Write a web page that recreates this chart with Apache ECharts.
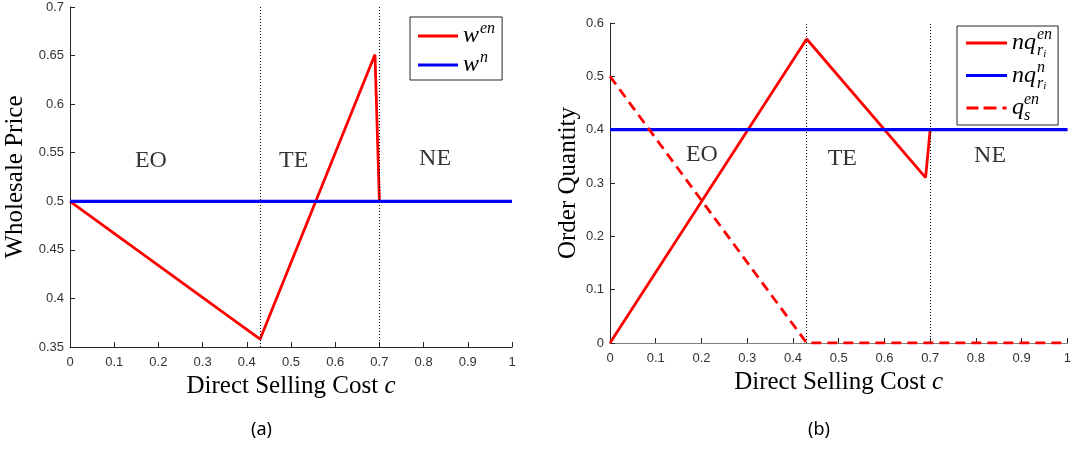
<!DOCTYPE html>
<html>
<head>
<meta charset="utf-8">
<script src="https://cdn.jsdelivr.net/npm/echarts@6/dist/echarts.min.js"></script>
<style>
html,body{margin:0;padding:0;background:#fff;}
#chart{width:1074px;height:456px;}
</style>
</head>
<body>
<div id="chart"></div>
<script>
// ---- data ----
const xTicks = [0, 0.1, 0.2, 0.3, 0.4, 0.5, 0.6, 0.7, 0.8, 0.9, 1];
const boundaries = [0.43, 0.70];

// (a) Wholesale price
const cWen = [0, 0.43, 0.69, 0.70, 1];
const wEn  = [0.5, 0.358, 0.651, 0.5, 0.5];
const cWn  = [0, 1];
const wN   = [0.5, 0.5];

// (b) Order quantity
const cQen = [0, 0.43, 0.69, 0.70, 1];
const nqEn = [0, 0.57, 0.31, 0.40, 0.40];
const cQn  = [0, 1];
const nqN  = [0.4, 0.4];
const cQs  = [0, 0.43, 1];
const qsEn = [0.5, 0, 0];

// region labels
const regionNames = ['EO', 'TE', 'NE'];
const regionXa = [0.183, 0.506, 0.826];
const regionYa = [0.542, 0.542, 0.544];
const regionXb = [0.201, 0.508, 0.831];
const regionYb = [0.353, 0.345, 0.351];

const panelLabels = ['(a)', '(b)'];

// ---- helpers ----
const pairs = (xs, ys) => xs.map((x, i) => [x, ys[i]]);
const labelPts = (xs, ys) => xs.map((x, i) => ({ value: [x, ys[i]], name: regionNames[i] }));

const AX = '#262626';
const serif = 'Liberation Serif';
const sans = 'Liberation Sans';

function xAxisOpt(gridIndex, lineColor) {
  return {
    type: 'value', gridIndex, min: 0, max: 1, interval: 0.1,
    name: '{t|Direct Selling Cost }{c|c}',
    nameLocation: 'middle', nameGap: 21,
    nameTextStyle: {
      rich: {
        t: { fontFamily: serif, fontSize: 25, color: '#000' },
        c: { fontFamily: serif, fontSize: 25, fontStyle: 'italic', color: '#000' }
      }
    },
    axisLine: { show: true, lineStyle: { color: lineColor, width: 1 } },
    axisTick: { show: true, inside: true, length: 5, lineStyle: { color: AX } },
    axisLabel: { fontFamily: sans, fontSize: 13, color: '#333', margin: 9,
      formatter: v => String(+v.toFixed(2)) },
    splitLine: { show: false }
  };
}
function yAxisOpt(gridIndex, min, max, interval, name, gap) {
  return {
    type: 'value', gridIndex, min, max, interval,
    name, nameLocation: 'middle', nameGap: gap,
    nameTextStyle: { fontFamily: serif, fontSize: 25, color: '#000' },
    axisLine: { show: true, lineStyle: { color: AX, width: 1 } },
    axisTick: { show: true, inside: true, length: 5, lineStyle: { color: AX } },
    axisLabel: { fontFamily: sans, fontSize: 13, color: '#333', margin: 6,
      formatter: v => String(+v.toFixed(2)) },
    splitLine: { show: false }
  };
}

const markLines = {
  silent: true, symbol: 'none',
  label: { show: false },
  lineStyle: { color: '#000', type: [1, 2], width: 1 },
  data: boundaries.map(b => ({ xAxis: b }))
};

function lineSeries(name, xi, yi, data, color, width, dashed) {
  return {
    name, type: 'line', xAxisIndex: xi, yAxisIndex: yi, data,
    symbol: 'none', showSymbol: false, animation: false,
    lineStyle: { color, width, type: dashed ? [10, 6] : 'solid' },
    itemStyle: { color }, z: 3
  };
}
function labelSeries(xi, yi, data) {
  return {
    type: 'scatter', xAxisIndex: xi, yAxisIndex: yi, data, symbolSize: 0,
    silent: true, animation: false,
    label: { show: true, position: 'inside', formatter: p => p.name,
      fontFamily: serif, fontSize: 24, color: '#000' }
  };
}

const richLegend = {
  v:   { fontFamily: serif, fontStyle: 'italic', fontSize: 24, color: '#000' },
  sup: { fontFamily: serif, fontStyle: 'italic', fontSize: 16, color: '#000' },
  sub: { fontFamily: serif, fontStyle: 'italic', fontSize: 16, color: '#000' },
  ss:  { fontFamily: serif, fontStyle: 'italic', fontSize: 11, color: '#000', padding: [6, 0, 0, 0] }
};
function legendRich(a, b) {
  return {
    v:   Object.assign({}, richLegend.v, { lineHeight: b }),
    sup: Object.assign({}, richLegend.sup, { lineHeight: a }),
    sub: Object.assign({}, richLegend.sub, { lineHeight: a }),
    ss:  Object.assign({}, richLegend.ss, { lineHeight: a }),
    pw:  { width: 17, lineHeight: a },
    pnq: { width: 25, lineHeight: a },
    pq:  { width: 12, lineHeight: a },
    e:   { lineHeight: a }
  };
}
const legendText = {
  'w^{en}': '{pw|}{sup|en}\n{v|w}\n{e|}',
  'w^{n}': '{pw|}{sup|n}\n{v|w}\n{e|}',
  'nq_{r_i}^{en}': '{pnq|}{sup|en}\n{v|nq}\n{pnq|}{sub|r}{ss|i}',
  'nq_{r_i}^{n}': '{pnq|}{sup|n}\n{v|nq}\n{pnq|}{sub|r}{ss|i}',
  'q_s^{en}': '{pq|}{sup|en}\n{v|q}\n{pq|}{sub|s}'
};
const dashIcon = 'path://M0 0H12V3H0Z M17 0H30V3H17Z M36 0H40V3H36Z';

const option = {
  backgroundColor: '#fff',
  animation: false,
  grid: [
    { left: 70, top: 7, width: 442, height: 340 },
    { left: 610, top: 23, width: 462, height: 320 }
  ],
  xAxis: [xAxisOpt(0, AX), xAxisOpt(1, '#7f7f7f')],
  yAxis: [
    yAxisOpt(0, 0.35, 0.7, 0.05, 'Wholesale Price', 42),
    yAxisOpt(1, 0, 0.6, 0.1, 'Order Quantity', 29)
  ],
  legend: [
    {
      data: [{ name: 'w^{en}', icon: 'rect' }, { name: 'w^{n}', icon: 'rect' }],
      orient: 'vertical', left: 410, top: 17,
      padding: [4, 7, 2, 8], itemWidth: 40, itemHeight: 3, itemGap: 1,
      borderColor: AX, borderWidth: 1, backgroundColor: '#fff',
      formatter: n => legendText[n],
      textStyle: { rich: legendRich(4, 10) },
      selectedMode: false
    },
    {
      data: [{ name: 'nq_{r_i}^{en}', icon: 'rect' }, { name: 'nq_{r_i}^{n}', icon: 'rect' }, { name: 'q_s^{en}', icon: dashIcon }],
      orient: 'vertical', left: 957, top: 26,
      padding: [1, 6, 1, 9], itemWidth: 41, itemHeight: 3, itemGap: 0,
      borderColor: AX, borderWidth: 1, backgroundColor: '#fff',
      formatter: n => legendText[n],
      textStyle: { rich: legendRich(4, 12) },
      selectedMode: false
    }
  ],
  graphic: [
    { type: 'text', left: 251, top: 421, style: { text: panelLabels[0], font: '18px "Noto Sans"', fill: '#000' } },
    { type: 'text', left: 808, top: 421, style: { text: panelLabels[1], font: '18px "Noto Sans"', fill: '#000' } }
  ],
  series: [
    Object.assign(lineSeries('w^{en}', 0, 0, pairs(cWen, wEn), '#ff0000', 2.8, false), { markLine: markLines }),
    lineSeries('w^{n}', 0, 0, pairs(cWn, wN), '#0000ff', 3.2, false),
    labelSeries(0, 0, labelPts(regionXa, regionYa)),
    Object.assign(lineSeries('nq_{r_i}^{en}', 1, 1, pairs(cQen, nqEn), '#ff0000', 2.8, false), { markLine: markLines }),
    lineSeries('nq_{r_i}^{n}', 1, 1, pairs(cQn, nqN), '#0000ff', 3.2, false),
    lineSeries('q_s^{en}', 1, 1, pairs(cQs, qsEn), '#ff0000', 2.8, true),
    labelSeries(1, 1, labelPts(regionXb, regionYb))
  ]
};

const chart = echarts.init(document.getElementById('chart'), null, { renderer: 'canvas' });
chart.setOption(option);
</script>
</body>
</html>
